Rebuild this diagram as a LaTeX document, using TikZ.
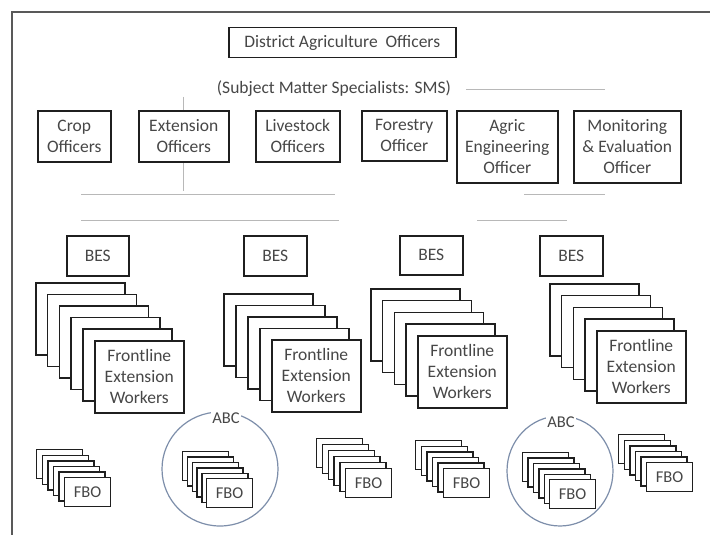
\documentclass[tikz,border=0pt]{standalone}
\usepackage{fontspec}
\setmainfont{Carlito}
\usetikzlibrary{shapes.geometric}
\begin{document}
\begin{tikzpicture}[x=1pt,y=-1pt,
  box/.style={draw=black!88, line width=1.5pt, fill=white, inner sep=0pt,
    align=center, anchor=north west, text=black!72,
    font=\fontsize{17.5}{21}\selectfont},
  fewcard/.style={box, minimum width=89pt, minimum height=72pt},
  fbocard/.style={box, line width=1.3pt, minimum width=46pt, minimum height=29pt,
    font=\fontsize{16.5}{19}\selectfont},
  faint/.style={draw=black!28, line width=0.8pt},
  abcring/.style={draw={rgb,255:red,125;green,142;blue,170}, line width=1.2pt,
    ellipse, inner sep=0pt},
  abclabel/.style={fill=white, inner sep=1.5pt, text=black!72,
    font=\fontsize{16.5}{19}\selectfont}
]
\useasboundingbox (0,0) rectangle (710,535);
\fill[white] (0,0) rectangle (710,535);

% outer frame (only top and left edges visible)
\draw[black!65, line width=1.5pt] (12,535) -- (12,12) -- (710,12);

% faint remnant lines
\draw[faint] (466,89) -- (605,89);
\draw[faint] (81,194) -- (335,194);
\draw[faint] (81,220) -- (339,220);
\draw[faint] (524,194) -- (605,194);
\draw[faint] (477,220) -- (567,220);
\draw[faint] (183,97) -- (183,191);

% top
\node[box, minimum width=227pt, minimum height=30pt] (dao) at (228,27) {District Agriculture\ \ Officers};
\node[text=black!72, font=\fontsize{17.5}{21}\selectfont, inner sep=0pt] (sms) at (334,89) {(Subject Matter Specialists: SMS)};

% officers
\node[box, minimum width=73pt, minimum height=51pt] (crop) at (37,110) {Crop\\Officers};
\node[box, minimum width=90pt, minimum height=51pt] (ext) at (138,110) {Extension\\Officers};
\node[box, minimum width=84pt, minimum height=51pt] (live) at (255,110) {Livestock\\Officers};
\node[box, minimum width=85pt, minimum height=50pt] (forest) at (361,110) {Forestry\\Officer};
\node[box, minimum width=101pt, minimum height=72pt] (agric) at (456,110) {Agric\\Engineering\\Officer};
\node[box, minimum width=107pt, minimum height=72pt] (mon) at (573,110) {Monitoring\\\&~Evaluation\\Officer};

% BES
\node[box, minimum width=62pt, minimum height=40pt] (bes1) at (66,235) {BES};
\node[box, minimum width=63pt, minimum height=40pt] (bes2) at (243,235) {BES};
\node[box, minimum width=63pt, minimum height=39pt] (bes3) at (399,235) {BES};
\node[box, minimum width=63pt, minimum height=40pt] (bes4) at (539,235) {BES};

% frontline extension worker stacks
\foreach \g/\px/\py/\sx/\sy/\m in {1/35/282/11.8/11.6/4, 2/223/293/12/11.5/3, 3/370/288/11.75/11.75/3, 4/549/283/11.75/11.75/3} {
  \foreach \i in {0,...,\m} {
    \node[fewcard] (few\g-\i) at ({\px+\i*\sx},{\py+\i*\sy}) {};
  }
}
\node[fewcard] (few1) at (94,340) {Frontline\\Extension\\Workers};
\node[fewcard] (few2) at (271,339) {Frontline\\Extension\\Workers};
\node[fewcard] (few3) at (417,335) {Frontline\\Extension\\Workers};
\node[fewcard] (few4) at (596,330) {Frontline\\Extension\\Workers};

% ABC rings
\node[abcring, minimum width=116pt, minimum height=114pt] (abc1) at (220,469) {};
\node[abcring, minimum width=106pt, minimum height=110pt] (abc2) at (560,471) {};
\node[abclabel] (abc1l) at (226,418) {ABC};
\node[abclabel] (abc2l) at (561,422) {ABC};

% FBO stacks
\foreach \g/\px/\py/\sx/\sy in {a/36/449/5.6/5.6, b/182/451/4.8/5.4, c/316/438/5.8/6, d/415/440/5.6/5.6, e/522/452/5.4/5.4, f/618/434/5.6/5.6} {
  \foreach \i in {0,...,4} {
    \node[fbocard] (fbo\g-\i) at ({\px+\i*\sx},{\py+\i*\sy}) {};
  }
  \node[fbocard] (fbo\g) at ({\px+5*\sx},{\py+5*\sy}) {FBO};
}
\end{tikzpicture}
\end{document}
